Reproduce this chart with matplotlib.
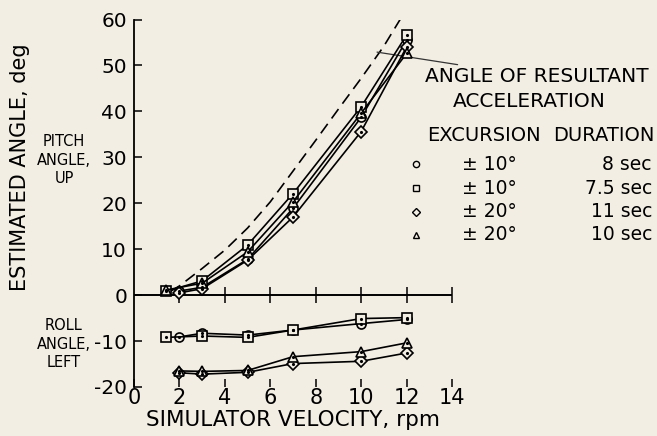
import matplotlib
matplotlib.use("Agg")
import matplotlib.pyplot as plt

# Data
# pitch angle (up)
pitch_circle_x = [2, 3, 5, 7, 10, 12]
pitch_circle_y = [0.9, 1.7, 7.8, 18.9, 38.7, 55.5]
pitch_square_x = [1.4, 3, 5, 7, 10, 12]
pitch_square_y = [0.8, 3.1, 10.9, 22.1, 41.0, 56.6]
pitch_diamond_x = [2, 3, 5, 7, 10, 12]
pitch_diamond_y = [0.5, 1.4, 7.6, 17.0, 35.6, 54.0]
pitch_triangle_x = [1.4, 3, 5, 7, 10, 12]
pitch_triangle_y = [1.1, 2.6, 9.4, 20.3, 39.6, 52.6]

# roll angle (left)
roll_circle_x = [2, 3, 5, 7, 10, 12]
roll_circle_y = [-9.1, -8.3, -8.7, -7.6, -6.2, -5.3]
roll_square_x = [1.4, 3, 5, 7, 10, 12]
roll_square_y = [-9.2, -8.9, -9.2, -7.6, -5.1, -4.9]
roll_diamond_x = [2, 3, 5, 7, 10, 12]
roll_diamond_y = [-16.9, -17.2, -16.8, -14.9, -14.4, -12.6]
roll_triangle_x = [2, 3, 5, 7, 10, 12]
roll_triangle_y = [-16.5, -16.6, -16.4, -13.4, -12.3, -10.4]

# angle of resultant acceleration (dashed)
accel_x = [1.6, 2, 3, 4, 5, 6, 7, 8, 9, 10, 11, 11.9]
accel_y = [0.8, 2.0, 5.8, 9.8, 14.6, 20.3, 27.0, 33.7, 40.5, 47.2, 54.2, 61.5]

legend_markers = ['o', 's', 'D', '^']
legend_excursion = [u'\u00b1 10\u00b0', u'\u00b1 10\u00b0', u'\u00b1 20\u00b0', u'\u00b1 20\u00b0']
legend_duration = ['8 sec', '7.5 sec', '11 sec', '10 sec']

x_ticks = [0, 2, 4, 6, 8, 10, 12, 14]
x_labels = ['0', '2', '4', '6', '8', '10', '12', '14']
y_ticks = [-20, -10, 0, 10, 20, 30, 40, 50, 60]
y_labels = ['-20', '-10', '0', '10', '20', '30', '40', '50', '60']

bg = '#f3eee4'
W, H = 657, 436

fig = plt.figure(figsize=(6.57, 4.36), dpi=100, facecolor=bg)
ax = fig.add_axes([134/W, 1 - 387/H, 318/W, 367.5/H])
ax.set_facecolor(bg)
ax.set_xlim(0, 14)
ax.set_ylim(-20, 60)

for s in ['top', 'right', 'bottom']:
    ax.spines[s].set_visible(False)
ax.spines['left'].set_linewidth(1.3)

ax.set_xticks(x_ticks)
ax.set_xticklabels(x_labels, fontsize=15)
ax.set_yticks(y_ticks)
ax.set_yticklabels(y_labels, fontsize=14.5)
ax.tick_params(axis='x', direction='in', length=6, width=1.1, pad=1)
ax.tick_params(axis='y', direction='in', length=6, width=1.1, pad=5)

# zero line with crossing ticks
ax.axhline(0, color='k', lw=1.4, zorder=2)
ax.plot(x_ticks[1:], [0]*len(x_ticks[1:]), ls='none', marker='|', ms=12,
        mew=1.1, color='k', zorder=2)

# dashed curve
ax.plot(accel_x, accel_y, color='k', lw=1.2, ls=(0, (7, 4)), zorder=3)

series = [
    (pitch_circle_x, pitch_circle_y, 'o', 6.5),
    (pitch_square_x, pitch_square_y, 's', 6.5),
    (pitch_diamond_x, pitch_diamond_y, 'D', 6),
    (pitch_triangle_x, pitch_triangle_y, '^', 6.5),
    (roll_circle_x, roll_circle_y, 'o', 6.5),
    (roll_square_x, roll_square_y, 's', 6.5),
    (roll_diamond_x, roll_diamond_y, 'D', 6),
    (roll_triangle_x, roll_triangle_y, '^', 6.5),
]
for xs, ys, m, ms in series:
    ax.plot(xs, ys, color='k', lw=1.2, marker=m, ms=ms, mfc=bg, mec='k',
            mew=1.2, zorder=4)
    ax.plot(xs, ys, ls='none', marker='.', ms=2.5, color='k', zorder=5)

# annotation for dashed curve
ax.annotate('ANGLE OF RESULTANT', xy=(10.7, 52.9), xytext=(12.8, 47.5),
            fontsize=14.5, ha='left', va='center',
            arrowprops=dict(arrowstyle='-', lw=0.9, color='#333333',
                            shrinkA=0, shrinkB=0),
            annotation_clip=False)
ax.text(14.05, 42.2, 'ACCELERATION', fontsize=14.5, ha='left', va='center',
        clip_on=False)

# legend table
ax.text(12.9, 34.8, 'EXCURSION', fontsize=14, ha='left',
        va='center', clip_on=False)
ax.text(22.9, 34.8, 'DURATION', fontsize=14, ha='right',
        va='center', clip_on=False)
row_y = [28.5, 23.3, 18.1, 13.1]
for m, exc, dur, ry in zip(legend_markers, legend_excursion, legend_duration, row_y):
    ax.plot([12.4], [ry], ls='none', marker=m, ms=4.5 if m != 'D' else 4,
            mfc=bg, mec='k', mew=1.0, clip_on=False)
    ax.text(14.45, ry, exc, fontsize=13.5, ha='left', va='center', clip_on=False)
    ax.text(22.8, ry, dur, fontsize=13.5, ha='right', va='center', clip_on=False)

# side labels
fig.text(20/W, 1 - 167/H, 'ESTIMATED ANGLE, deg', rotation=90, fontsize=15,
         ha='center', va='center')
fig.text(64/W, 1 - 160/H, 'PITCH\nANGLE,\nUP', fontsize=10.5, ha='center',
         va='center', linespacing=1.3)
fig.text(64/W, 1 - 344/H, 'ROLL\nANGLE,\nLEFT', fontsize=10.5, ha='center',
         va='center', linespacing=1.3)

ax.set_xlabel('SIMULATOR VELOCITY, rpm', fontsize=15.5, labelpad=1)

fig.savefig('out.png', dpi=100, facecolor=bg)
